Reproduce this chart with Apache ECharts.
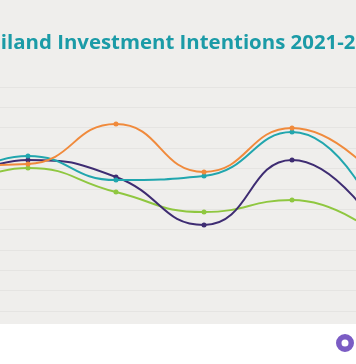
<!DOCTYPE html>
<html>
<head>
<meta charset="utf-8">
<script src="https://cdn.jsdelivr.net/npm/echarts@6/dist/echarts.min.js"></script>
<style>
html,body{margin:0;padding:0;background:#ffffff;}
#chart{width:356px;height:364px;}
</style>
</head>
<body>
<div id="chart"></div>
<script>
// Periods (first and last partly outside the visible crop)
var categories = ['P0', 'P1', 'P2', 'P3', 'P4', 'P5'];
var seriesNames = ['Orange', 'Teal', 'Purple', 'Green'];
var orangeValues = [7.12, 7.22, 9.18, 6.83, 8.99, 6.34];
var tealValues   = [5.84, 7.61, 6.43, 6.63, 8.79, 4.37];
var purpleValues = [5.70, 7.42, 6.58, 4.22, 7.42, 3.88];
var greenValues  = [5.60, 7.02, 5.84, 4.86, 5.45, 3.63];
var titleText = 'Thailand Investment Intentions 2021-2022';

var colors = ['#f08a3c', '#21a6ae', '#3e2c72', '#8fc740'];
var allValues = [orangeValues, tealValues, purpleValues, greenValues];

var chart = echarts.init(document.getElementById('chart'), null, {renderer: 'canvas'});
var series = allValues.map(function (vals, i) {
  return {
    name: seriesNames[i],
    type: 'line',
    data: vals.map(function (v, k) { return [k, v]; }),
    smooth: 0.5,
    symbol: 'circle',
    symbolSize: 5,
    clip: true,
    lineStyle: {color: colors[i], width: 2},
    itemStyle: {color: colors[i]},
    z: 5 - i
  };
});

chart.setOption({
  backgroundColor: '#efeeec',
  animation: false,
  grid: {left: 0, right: 0, top: 87, bottom: 53},
  xAxis: {
    type: 'value',
    min: 0.682,
    max: 4.727,
    axisLine: {show: false},
    axisTick: {show: false},
    axisLabel: {show: false},
    splitLine: {show: false}
  },
  yAxis: {
    type: 'value',
    min: 0,
    max: 11,
    interval: 1,
    axisLine: {show: false},
    axisTick: {show: false},
    axisLabel: {show: false},
    splitLine: {lineStyle: {color: '#e5e4e2', width: 1}}
  },
  graphic: [
    {
      type: 'rect',
      shape: {x: 0, y: 324, width: 356, height: 40},
      style: {fill: '#ffffff'},
      silent: true
    },
    {
      type: 'text',
      x: -36.7,
      y: 33,
      style: {
        text: titleText,
        fill: '#1b9ba7',
        font: 'bold 20.4px "Open Sans"',
        textBaseline: 'top'
      }
    },
    {
      type: 'ring',
      shape: {cx: 345, cy: 343, r: 9, r0: 3.5},
      style: {fill: '#7b5cc4'},
      silent: true
    }
  ],
  series: series
});
</script>
</body>
</html>
